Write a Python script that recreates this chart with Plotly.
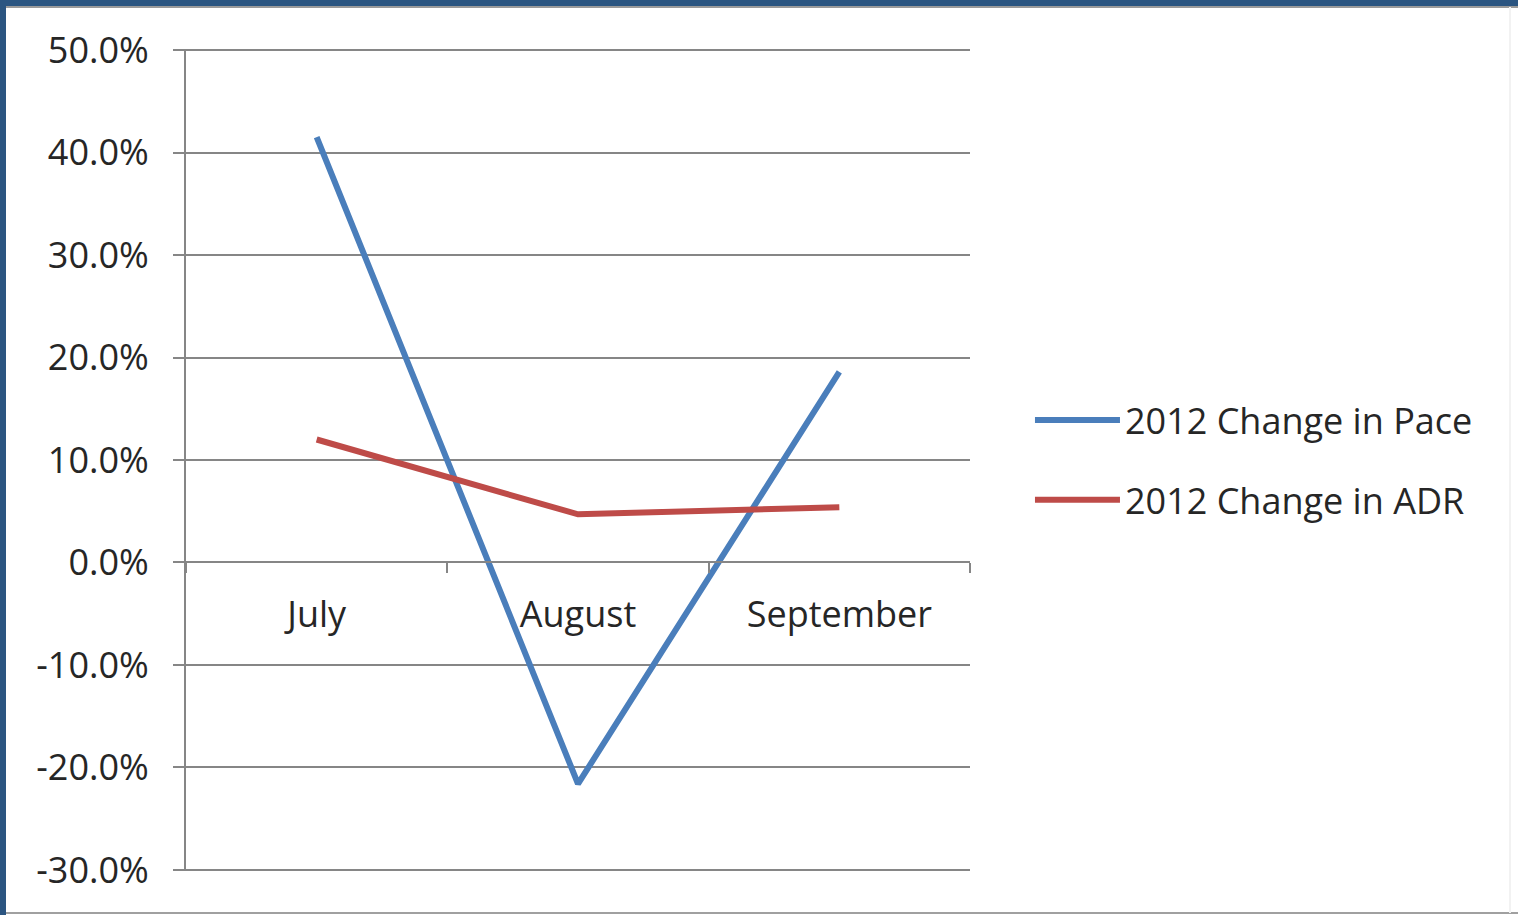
import plotly.graph_objects as go

# Monthly 2012 changes (percent)
months = ["July", "August", "September"]
pace_change = [41.5, -21.6, 18.6]
adr_change = [12.0, 4.7, 5.4]
y_ticks = [50, 40, 30, 20, 10, 0, -10, -20, -30]
y_tick_labels = ["50.0%", "40.0%", "30.0%", "20.0%", "10.0%", "0.0%", "-10.0%", "-20.0%", "-30.0%"]

W, H = 1518, 915
L, R, T, B = 186, 970, 49, 871  # plot area edges in pixels

font_family = "Open Sans, Noto Sans, sans-serif"
text_color = "#262626"
grid_color = "#868686"

fig = go.Figure()
fig.add_trace(go.Scatter(
    x=months, y=pace_change, mode="lines", name="2012 Change in Pace",
    legendgroup="pace",
    line=dict(color="#4A7EBB", width=6),
))
fig.add_trace(go.Scatter(
    x=months, y=adr_change, mode="lines", name="2012 Change in ADR",
    legendgroup="adr",
    line=dict(color="#BE4B48", width=6),
))

# small padding so the gridlines at the range ends are still drawn
y_min, y_max = -30.1, 50.1
zero_pos = (0 - y_min) / (y_max - y_min)

fig.update_layout(
    width=W, height=H,
    margin=dict(l=L, r=W - R, t=T, b=H - B, pad=0),
    paper_bgcolor="white", plot_bgcolor="white",
    font=dict(family=font_family, size=36, color=text_color),
    showlegend=True,
    legend=dict(
        x=1.0765, y=0.5, xanchor="left", yanchor="middle",
        font=dict(size=36, color=text_color),
        itemwidth=85, tracegroupgap=30,
        bgcolor="rgba(0,0,0,0)",
    ),
    xaxis=dict(
        type="category", range=[-0.5, 2.5],
        anchor="free", position=zero_pos,
        showline=True, linecolor=grid_color, linewidth=2,
        ticks="outside", tickson="boundaries", ticklen=10, tickwidth=2, tickcolor=grid_color,
        ticklabelstandoff=20,
        showgrid=False, zeroline=False,
        tickfont=dict(size=36, color=text_color),
    ),
    yaxis=dict(
        range=[y_min, y_max],
        tickvals=y_ticks, ticktext=y_tick_labels,
        showline=True, linecolor=grid_color, linewidth=2,
        ticks="outside", ticklen=11, tickwidth=2, tickcolor=grid_color,
        ticklabelstandoff=17,
        showgrid=True, gridcolor=grid_color, gridwidth=2,
        zeroline=False,
        tickfont=dict(size=36, color=text_color),
    ),
)

# Frame around the whole chart
def px_x(px):
    return (px - L) / (R - L)

def px_y(py):
    return (B - py) / (B - T)

frame_blue = "#2B5581"
fig.add_shape(type="rect", xref="paper", yref="paper",
              x0=px_x(0), x1=px_x(W), y0=px_y(6), y1=px_y(0),
              fillcolor=frame_blue, line_width=0, layer="below")
fig.add_shape(type="rect", xref="paper", yref="paper",
              x0=px_x(0), x1=px_x(6), y0=px_y(H), y1=px_y(0),
              fillcolor=frame_blue, line_width=0, layer="below")
fig.add_shape(type="line", xref="paper", yref="paper",
              x0=px_x(6), x1=px_x(W), y0=px_y(7), y1=px_y(7),
              line=dict(color="#9a9a9a", width=2), layer="below")
fig.add_shape(type="line", xref="paper", yref="paper",
              x0=px_x(6), x1=px_x(W), y0=px_y(913), y1=px_y(913),
              line=dict(color="#a0a0a0", width=2), layer="below")
fig.add_shape(type="line", xref="paper", yref="paper",
              x0=px_x(1510), x1=px_x(1510), y0=px_y(913), y1=px_y(7),
              line=dict(color="#f2f2f2", width=2), layer="below")

fig.write_html("out.html")
